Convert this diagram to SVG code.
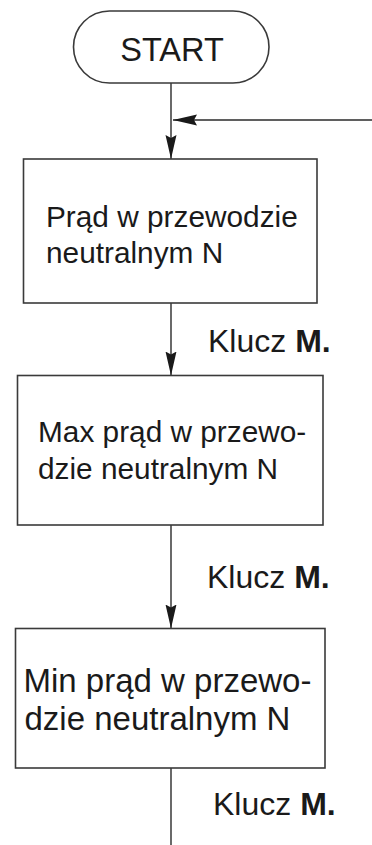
<svg xmlns="http://www.w3.org/2000/svg" width="372" height="845" viewBox="0 0 372 845">
<style>
.box{fill:#fff;stroke:#3a3a3a;stroke-width:1.6}
.ln{fill:none;stroke:#2a2a2a;stroke-width:1.4}
.t{font-family:"Liberation Sans",Arial,sans-serif;fill:#1a1a1a}
.k{font-family:"Liberation Sans",Arial,sans-serif;fill:#1a1a1a;font-size:32px}
</style>
<defs>
<marker id="ah" viewBox="0 0 24 12" markerWidth="24" markerHeight="12" refX="24" refY="6" orient="auto" markerUnits="userSpaceOnUse">
<path d="M0,0.5 L24,6 L0,11.5 L3,6 z" fill="#1a1a1a"/>
</marker>
</defs>
<rect width="372" height="845" fill="#fff"/>
<g id="connectors">
<line class="ln" x1="171" y1="83" x2="171" y2="159" marker-end="url(#ah)"/>
<line class="ln" x1="372" y1="120" x2="173" y2="120" marker-end="url(#ah)"/>
<line class="ln" x1="171" y1="303" x2="171" y2="375.5" marker-end="url(#ah)"/>
<line class="ln" x1="171" y1="525" x2="171" y2="628.5" marker-end="url(#ah)"/>
<line class="ln" x1="171" y1="768" x2="171" y2="845"/>
</g>
<g id="start">
<rect class="box" x="73.5" y="11" width="195.5" height="72" rx="36" ry="36"/>
<text class="t" x="172" y="61" font-size="32.5" text-anchor="middle">START</text>
</g>
<g id="node1">
<rect class="box" x="23.5" y="159" width="293.5" height="144"/>
<text class="t" font-size="29.8"><tspan x="46" y="226.5">Prąd w przewodzie</tspan><tspan x="46" y="262.5">neutralnym N</tspan></text>
</g>
<g id="node2">
<rect class="box" x="17.5" y="375.5" width="305.5" height="149.5"/>
<text class="t" font-size="29.8"><tspan x="38" y="442">Max prąd w przewo-</tspan><tspan x="38" y="479">dzie neutralnym N</tspan></text>
</g>
<g id="node3">
<rect class="box" x="15.5" y="628.5" width="309.5" height="139.5"/>
<text class="t" font-size="33"><tspan x="23.5" y="692">Min prąd w przewo-</tspan><tspan x="24.5" y="730">dzie neutralnym N</tspan></text>
</g>
<g id="labels">
<text class="k" x="208" y="352">Klucz <tspan font-weight="bold">M.</tspan></text>
<text class="k" x="207" y="588">Klucz <tspan font-weight="bold">M.</tspan></text>
<text class="k" x="213" y="815">Klucz <tspan font-weight="bold">M.</tspan></text>
</g>
</svg>
